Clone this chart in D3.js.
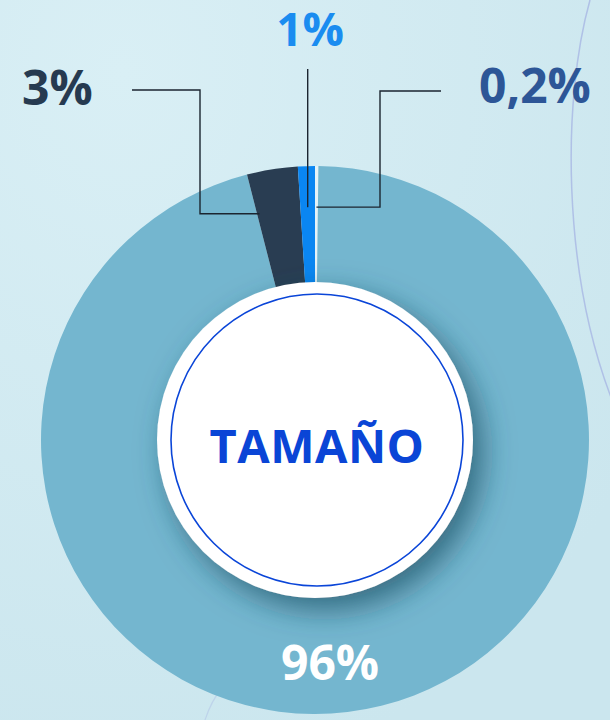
<!DOCTYPE html>
<html>
<head>
<meta charset="utf-8">
<script src="https://cdn.jsdelivr.net/npm/d3@7"></script>
<style>
  html, body { margin: 0; padding: 0; }
  body { width: 610px; height: 720px; overflow: hidden; background: #d2eaf1; }
  text { font-family: "Open Sans", "DejaVu Sans", sans-serif; font-weight: 700; }
</style>
</head>
<body>
<div class="chart"></div>
<script>
// slice data, clockwise from 12 o'clock
const labels = ['0,2%', '96%', '3%', '1%'];
const values = [0.2, 96, 3, 1];
const colors = ['#e6f3f7', '#74b6cf', '#293d52', '#0a86f2'];
const labelColors = ['#2d5697', '#ffffff', '#263a50', '#1a8cf0'];
const centerTitle = 'TAMAÑO';

const width = 610, height = 720;
const cx = 315, cy = 440;
const outerR = 274, innerR = 150, diskR = 158, ringR = 146;

const svg = d3.select('.chart').append('svg')
	.attr('width', width)
	.attr('height', height);

const defs = svg.append('defs');
const bg = defs.append('radialGradient').attr('id', 'bg').attr('cx', '20%').attr('cy', '10%').attr('r', '100%');
bg.append('stop').attr('offset', '0%').attr('stop-color', '#d9eff5');
bg.append('stop').attr('offset', '100%').attr('stop-color', '#cbe6ee');

const shadow = defs.append('filter').attr('id', 'shadow')
	.attr('x', '-30%').attr('y', '-30%').attr('width', '170%').attr('height', '170%');
shadow.append('feDropShadow')
	.attr('dx', 10).attr('dy', 12)
	.attr('stdDeviation', 15)
	.attr('flood-color', '#1f4c60')
	.attr('flood-opacity', 0.7);

svg.append('rect').attr('width', width).attr('height', height).attr('fill', 'url(#bg)');

// faint decorative curves
svg.append('path')
	.attr('d', 'M590,0 C562,100 562,270 612,400')
	.attr('fill', 'none')
	.attr('stroke', '#a7b6e4')
	.attr('stroke-width', 1.5)
	.attr('opacity', 0.8);
svg.append('path')
	.attr('d', 'M205,720 C210,705 216,695 222,688')
	.attr('fill', 'none')
	.attr('stroke', '#a7b6e4')
	.attr('stroke-width', 1.2)
	.attr('opacity', 0.4);

const pie = d3.pie().sort(null).value(d => d);
const arcs = pie(values);
const arc = d3.arc().innerRadius(innerR).outerRadius(outerR);

const g = svg.append('g').attr('transform', `translate(${cx},${cy})`);

g.selectAll('path.slice')
	.data(arcs)
	.enter().append('path')
	.attr('class', 'slice')
	.attr('d', arc)
	.attr('fill', (d, i) => colors[i]);

// center disk
g.append('circle').attr('r', diskR).attr('fill', '#ffffff').attr('filter', 'url(#shadow)');
g.append('circle').attr('cx', 2).attr('r', ringR).attr('fill', 'none').attr('stroke', '#0a45d8').attr('stroke-width', 1.6);
g.append('text')
	.attr('x', 2).attr('y', 23)
	.attr('text-anchor', 'middle')
	.attr('fill', '#0a45d6')
	.style('font-size', '47px')
	.style('letter-spacing', '0.5px')
	.text(centerTitle);

// leader lines: point on the slice at a fixed radius, elbow, then label
const leadR = outerR * 0.85;
function pointAt(angle, r) {
	return [r * Math.sin(angle), -r * Math.cos(angle)];
}
const callouts = [
	{ i: 2, at: 'start', elbowX: -115, endX: -183, endY: -350, tx: -293, ty: -335, anchor: 'start', size: 48 },
	{ i: 3, at: 'mid', elbowX: null, endX: null, endY: -371, tx: -5, ty: -394, anchor: 'middle', size: 46 },
	{ i: 0, at: 'mid', elbowX: 65, endX: 126, endY: -349, tx: 164, ty: -337, anchor: 'start', size: 48 }
];

callouts.forEach(c => {
	const a = arcs[c.i];
	const ang = c.at === 'start' ? a.startAngle + 0.01 : (a.startAngle + a.endAngle) / 2;
	const p = pointAt(ang, leadR);
	let pts;
	if (c.elbowX === null) {
		pts = [[p[0], p[1]], [p[0], c.endY]];
	} else {
		pts = [[p[0], p[1]], [c.elbowX, p[1]], [c.elbowX, c.endY], [c.endX, c.endY]];
	}
	g.append('path')
		.attr('d', d3.line()(pts))
		.attr('fill', 'none')
		.attr('stroke', '#1b2530')
		.attr('stroke-width', 1.4);
	g.append('text')
		.attr('x', c.tx).attr('y', c.ty)
		.attr('text-anchor', c.anchor)
		.attr('fill', labelColors[c.i])
		.style('font-size', c.size + 'px')
		.text(labels[c.i]);
});

// big slice label inside the ring
g.append('text')
	.attr('x', 15).attr('y', 240)
	.attr('text-anchor', 'middle')
	.attr('fill', labelColors[1])
	.style('font-size', '48px')
	.text(labels[1]);
</script>
</body>
</html>
